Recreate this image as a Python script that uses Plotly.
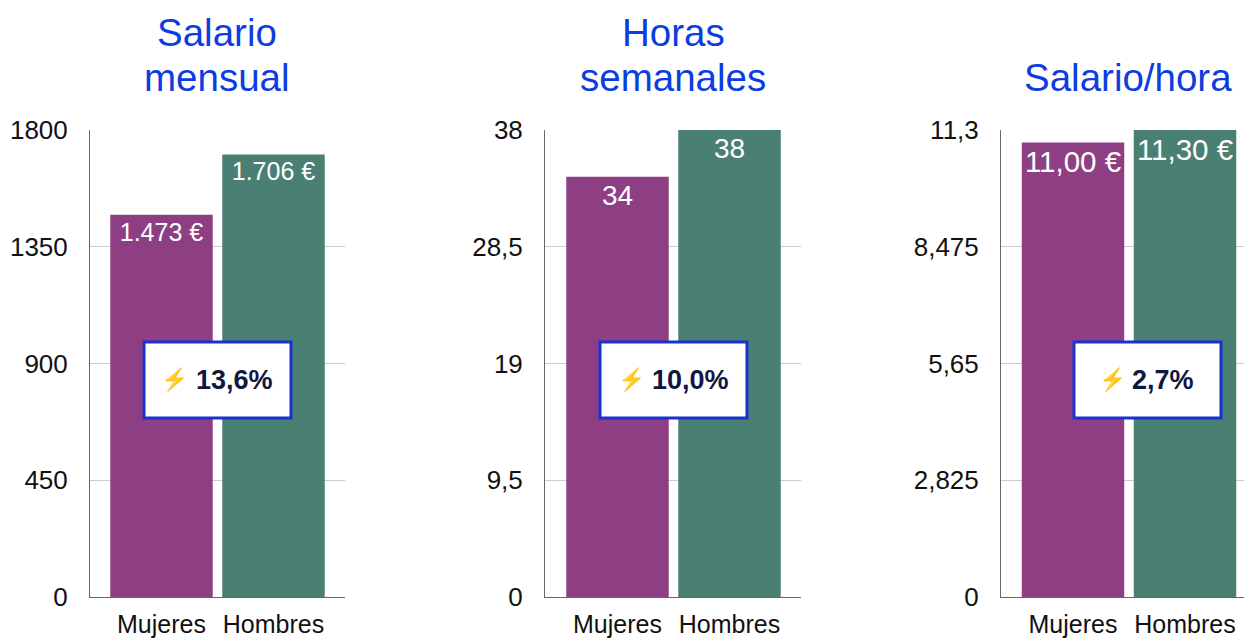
import plotly.graph_objects as go

categories = ["Mujeres", "Hombres"]
titles = [["Salario", "mensual"], ["Horas", "semanales"], ["Salario/hora"]]
salario = [1473, 1706]
horas = [34.2, 38]
por_hora = [11.00, 11.30]
salario_text = ["1.473 €", "1.706 €"]
horas_text = ["34", "38"]
por_hora_text = ["11,00 €", "11,30 €"]
salario_ticks = [0, 450, 900, 1350, 1800]
horas_ticks = [0, 9.5, 19, 28.5, 38]
por_hora_ticks = [0, 2.825, 5.65, 8.475, 11.3]
salario_ticktext = ["0", "450", "900", "1350", "1800"]
horas_ticktext = ["0", "9,5", "19", "28,5", "38"]
por_hora_ticktext = ["0", "2,825", "5,65", "8,475", "11,3"]
brechas = ["13,6%", "10,0%", "2,7%"]
bar_colors = ["#8E3F84", "#4A7F74"]
W, H = 1244, 639
FONT = "Liberation Sans, Arial, sans-serif"

panels = [
    dict(y=salario, text=salario_text, ticks=salario_ticks, ticktext=salario_ticktext, title=titles[0], brecha=brechas[0],
         left=90, right=345, c0=161.5, size=25, tx=217, box=(143, 292), ty=[33, 78], off=(16, 51)),
    dict(y=horas, text=horas_text, ticks=horas_ticks, ticktext=horas_ticktext, title=titles[1], brecha=brechas[1],
         left=545, right=801, c0=617.5, size=28, tx=673, box=(599, 748), ty=[33, 78], off=(17, 51)),
    dict(y=por_hora, text=por_hora_text, ticks=por_hora_ticks, ticktext=por_hora_ticktext, title=titles[2], brecha=brechas[2],
         left=1001, right=1244, c0=1073, size=29.5, tx=1128, box=(1073, 1222), ty=[78], off=(24, 57)),
]

fig = go.Figure()
TOP, BOTTOM = 130, 597
STEP = 112
shapes, annotations = [], []
layout = {}
for i, p in enumerate(panels, 1):
    xa, ya = (f"x{i}" if i > 1 else "x"), (f"y{i}" if i > 1 else "y")
    fig.add_trace(go.Bar(
        x=categories, y=p["y"], xaxis=xa, yaxis=ya, width=0.915,
        marker=dict(color=bar_colors, line=dict(width=0)),
        text=p["text"], textposition="inside", insidetextanchor="end", textangle=0, cliponaxis=False,
        insidetextfont=dict(color="white", size=p["size"], family=FONT),
        showlegend=False, hoverinfo="skip"))
    layout[f"xaxis{i if i > 1 else ''}"] = dict(
        domain=[p["left"] / W, p["right"] / W], anchor=ya, type="category", categoryorder="array",
        categoryarray=categories, automargin=False,
        range=[(p["left"] - p["c0"]) / STEP, (p["right"] - p["c0"]) / STEP],
        showline=True, linecolor="#666666", linewidth=1, showgrid=False, ticks="", ticklabelstandoff=5,
        tickfont=dict(size=25, color="#111111", family=FONT), fixedrange=True)
    layout[f"yaxis{i if i > 1 else ''}"] = dict(
        domain=[1 - BOTTOM / H, 1 - TOP / H], anchor=xa, range=[0, p["ticks"][-1]], automargin=False,
        tickmode="array", tickvals=p["ticks"], ticktext=p["ticktext"],
        showline=True, linecolor="#666666", linewidth=1, showgrid=True, gridcolor="#CCCCCC", gridwidth=1,
        zeroline=False, ticks="", ticklabelstandoff=16,
        tickfont=dict(size=26, color="#111111", family=FONT), fixedrange=True)
    for line, ty in zip(p["title"], p["ty"]):
        annotations.append(dict(x=p["tx"] / W, y=1 - ty / H, xref="paper", yref="paper", xanchor="center", yanchor="middle",
                                text=line, showarrow=False, align="center",
                                font=dict(size=38.5, color="#0B3DE0", family=FONT)))
    x0, x1 = p["box"]
    shapes.append(dict(type="rect", xref="paper", yref="paper", x0=(x0 + 1) / W, x1=(x1 - 1) / W,
                       y0=1 - 418 / H, y1=1 - 342 / H, fillcolor="white",
                       line=dict(color="#1A32D0", width=3), layer="above"))
    annotations.append(dict(x=(x0 + p["off"][0]) / W, y=1 - 380 / H, xref="paper", yref="paper", xanchor="left", yanchor="middle",
                            text="⚡", showarrow=False, font=dict(size=22, color="#F5B52E", family=FONT)))
    annotations.append(dict(x=(x0 + p["off"][1]) / W, y=1 - 380 / H, xref="paper", yref="paper", xanchor="left", yanchor="middle",
                            text=f"<b>{p['brecha']}</b>", showarrow=False,
                            font=dict(size=27, color="#12173F", family=FONT)))

fig.update_layout(width=W, height=H, margin=dict(l=0, r=0, t=0, b=0), paper_bgcolor="white", plot_bgcolor="white",
                  shapes=shapes, annotations=annotations, font=dict(family=FONT), **layout)
fig.write_html("out.html", post_script="document.body.style.margin='0';document.body.style.overflow='hidden';",
               config={"displayModeBar": False})
